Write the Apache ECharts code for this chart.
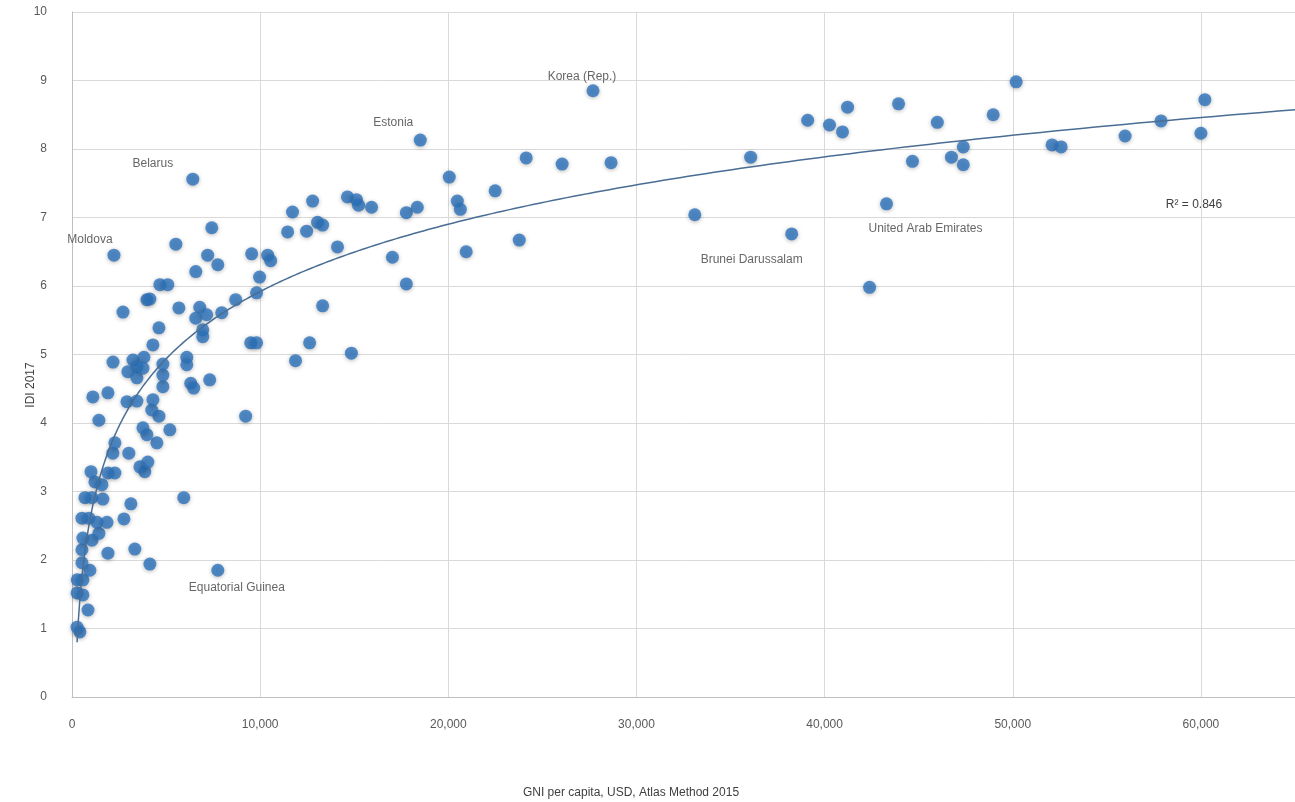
<!DOCTYPE html>
<html>
<head>
<meta charset="utf-8">
<script src="https://cdn.jsdelivr.net/npm/echarts@6/dist/echarts.min.js"></script>
<style>
  html, body { margin: 0; padding: 0; background: #fff; overflow: hidden; }
  #main { width: 1298px; height: 802px; }
</style>
</head>
<body>
<div id="main"></div>
<script>
// GNI per capita (USD) and IDI 2017 values
var gni = [
  420, 270, 850, 270, 580, 280, 580, 950, 530, 530,
  580, 1060, 1430, 1910, 3340, 4140, 530, 900, 1330, 1860,
  2760, 690, 1060, 1640, 3130, 5940, 1220, 1590, 1010, 1910,
  2280, 3870, 3610, 4030, 2170, 3020, 2280, 4510, 3980, 3770,
  5200, 1430, 4620, 9230, 4240, 1110, 1910, 2920, 3450, 4300,
  6310, 6470, 7320, 4830, 4830, 4830, 6100, 6100, 2180, 3240,
  3820, 3450, 2970, 3450, 3770, 4300, 4620, 6950, 6950, 2710,
  3980, 4140, 5680, 6790, 6580, 7160, 7960, 8700, 9810, 4670,
  5090, 5520, 7210, 7750, 6580, 7430, 9550, 10400, 10560, 9970,
  9500, 9810, 11880, 12630, 14850, 13320, 11460, 11720, 12470, 12790,
  13050, 13320, 14110, 14640, 15120, 15230, 15920, 17030, 17770, 17770,
  18350, 20050, 20480, 20640, 20950, 22490, 23770, 24140, 26050, 28650,
  33100, 36070, 39100, 40260, 40950, 41220, 42390, 43930, 44670, 45990,
  46740, 47370, 47370, 48960, 50180, 52090, 52570, 55970, 57880, 60210,
  60000
];
var idi = [
  0.95, 1.02, 1.27, 1.52, 1.49, 1.71, 1.71, 1.85, 1.96, 2.15,
  2.32, 2.29, 2.39, 2.10, 2.16, 1.94, 2.61, 2.61, 2.55, 2.55,
  2.60, 2.91, 2.91, 2.89, 2.82, 2.91, 3.14, 3.10, 3.29, 3.27,
  3.27, 3.29, 3.36, 3.43, 3.56, 3.56, 3.71, 3.71, 3.83, 3.93,
  3.90, 4.04, 4.10, 4.10, 4.19, 4.38, 4.44, 4.31, 4.32, 4.34,
  4.58, 4.51, 4.63, 4.53, 4.70, 4.86, 4.96, 4.85, 4.89, 4.92,
  4.96, 4.82, 4.75, 4.66, 4.80, 5.14, 5.39, 5.36, 5.26, 5.62,
  5.80, 5.81, 5.68, 5.69, 5.53, 5.58, 5.61, 5.80, 5.90, 6.02,
  6.02, 6.61, 6.45, 6.31, 6.21, 6.85, 6.47, 6.45, 6.37, 6.13,
  5.17, 5.17, 4.91, 5.17, 5.02, 5.71, 6.79, 7.08, 6.80, 7.24,
  6.93, 6.89, 6.57, 7.30, 7.26, 7.18, 7.15, 6.42, 6.03, 7.07,
  7.15, 7.59, 7.24, 7.12, 6.50, 7.39, 6.67, 7.87, 7.78, 7.80,
  7.04, 7.88, 8.42, 8.35, 8.25, 8.61, 5.98, 8.66, 7.82, 8.39,
  7.88, 8.03, 7.77, 8.50, 8.98, 8.06, 8.03, 8.19, 8.41, 8.72,
  8.23
];

// labelled countries
var labelNames = ['Korea (Rep.)', 'Estonia', 'Belarus', 'Moldova', 'Equatorial Guinea', 'Brunei Darussalam', 'United Arab Emirates'];
var labelGni = [27690, 18510, 6420, 2230, 7750, 38250, 43290];
var labelIdi = [8.85, 8.13, 7.56, 6.45, 1.85, 6.76, 7.20];

var xTicks = [0, 10000, 20000, 30000, 40000, 50000, 60000];
var yTicks = [0, 1, 2, 3, 4, 5, 6, 7, 8, 9, 10];
var rSquaredText = 'R\u00b2 = 0.846';

// label offsets from the marker centre (px)
var labelOffsets = {
  'Korea (Rep.)': [-11, -14],
  'Estonia': [-27, -17],
  'Belarus': [-40, -15],
  'Moldova': [-24, -15],
  'Equatorial Guinea': [19, 17],
  'Brunei Darussalam': [-40, 26],
  'United Arab Emirates': [39, 25]
};

// logarithmic trend line fitted to all points (least squares on ln x)
var allX = gni.concat(labelGni), allY = idi.concat(labelIdi);
var n = allX.length, sl = 0, sy = 0, sll = 0, sly = 0;
for (var i = 0; i < n; i++) {
  var l = Math.log(allX[i]);
  sl += l; sy += allY[i]; sll += l * l; sly += l * allY[i];
}
var slope = (n * sly - sl * sy) / (n * sll - sl * sl);
var icpt = (sy - slope * sl) / n;
var xMin = Math.min.apply(null, allX);
var trend = [];
for (var k = 0; k <= 400; k++) {
  var xv = xMin * Math.pow(65000 / xMin, k / 400);
  trend.push([xv, slope * Math.log(xv) + icpt]);
}

var pts = gni.map(function (g, j) { return [g, idi[j]]; });
var labelled = labelGni.map(function (g, j) {
  return {
    value: [g, labelIdi[j]],
    label: {
      show: true,
      formatter: labelNames[j],
      position: 'inside',
      offset: labelOffsets[labelNames[j]],
      color: '#404040',
      fontSize: 12,
      fontFamily: 'Liberation Sans'
    }
  };
});

var dotStyle = {
  color: '#2c73bd',
  shadowBlur: 4,
  shadowColor: 'rgba(0,0,0,0.35)',
  shadowOffsetY: 1
};

var chart = echarts.init(document.getElementById('main'));
var option = {
  animation: false,
  backgroundColor: '#fff',
  grid: { left: 72, right: 0, top: 12, bottom: 105 },
  xAxis: {
    type: 'value', min: 0, max: 65000, interval: 10000,
    axisLine: { show: true, lineStyle: { color: '#bfbfbf', width: 1 } },
    axisTick: { show: false },
    splitLine: { show: true, lineStyle: { color: '#d9d9d9' } },
    axisLabel: {
      margin: 22, color: '#595959', fontSize: 12, fontFamily: 'Liberation Sans',
      formatter: function (v) { return xTicks.indexOf(v) >= 0 ? v.toLocaleString('en-US') : ''; }
    }
  },
  yAxis: {
    type: 'value', min: 0, max: 10, interval: 1,
    axisLine: { show: true, lineStyle: { color: '#bfbfbf', width: 1 } },
    axisTick: { show: false },
    splitLine: { show: true, lineStyle: { color: '#d9d9d9' } },
    axisLabel: {
      margin: 25, color: '#595959', fontSize: 12, fontFamily: 'Liberation Sans',
      formatter: function (v) { return yTicks.indexOf(v) >= 0 ? String(v) : ''; }
    }
  },
  graphic: [
    {
      type: 'text', x: 631, y: 793,
      style: { text: 'GNI per capita, USD, Atlas Method 2015', fill: '#404040', font: '12px "Liberation Sans"', textAlign: 'center', textVerticalAlign: 'middle' }
    },
    {
      type: 'text', x: 31, y: 385, rotation: Math.PI / 2,
      style: { text: 'IDI 2017', fill: '#404040', font: '12px "Liberation Sans"', textAlign: 'center', textVerticalAlign: 'middle' }
    },
    {
      type: 'text', x: 1194, y: 205,
      style: { text: rSquaredText, fill: '#404040', font: '12px "Liberation Sans"', textAlign: 'center', textVerticalAlign: 'middle' }
    }
  ],
  series: [
    {
      type: 'line', data: trend, showSymbol: false, smooth: false,
      lineStyle: { color: '#4a6d94', width: 1.5 }, z: 3, silent: true
    },
    {
      type: 'scatter', data: pts, symbolSize: 13,
      itemStyle: dotStyle, z: 2
    },
    {
      type: 'scatter', data: labelled, symbolSize: 13,
      itemStyle: dotStyle, z: 2
    }
  ]
};
chart.setOption(option);
</script>
</body>
</html>
